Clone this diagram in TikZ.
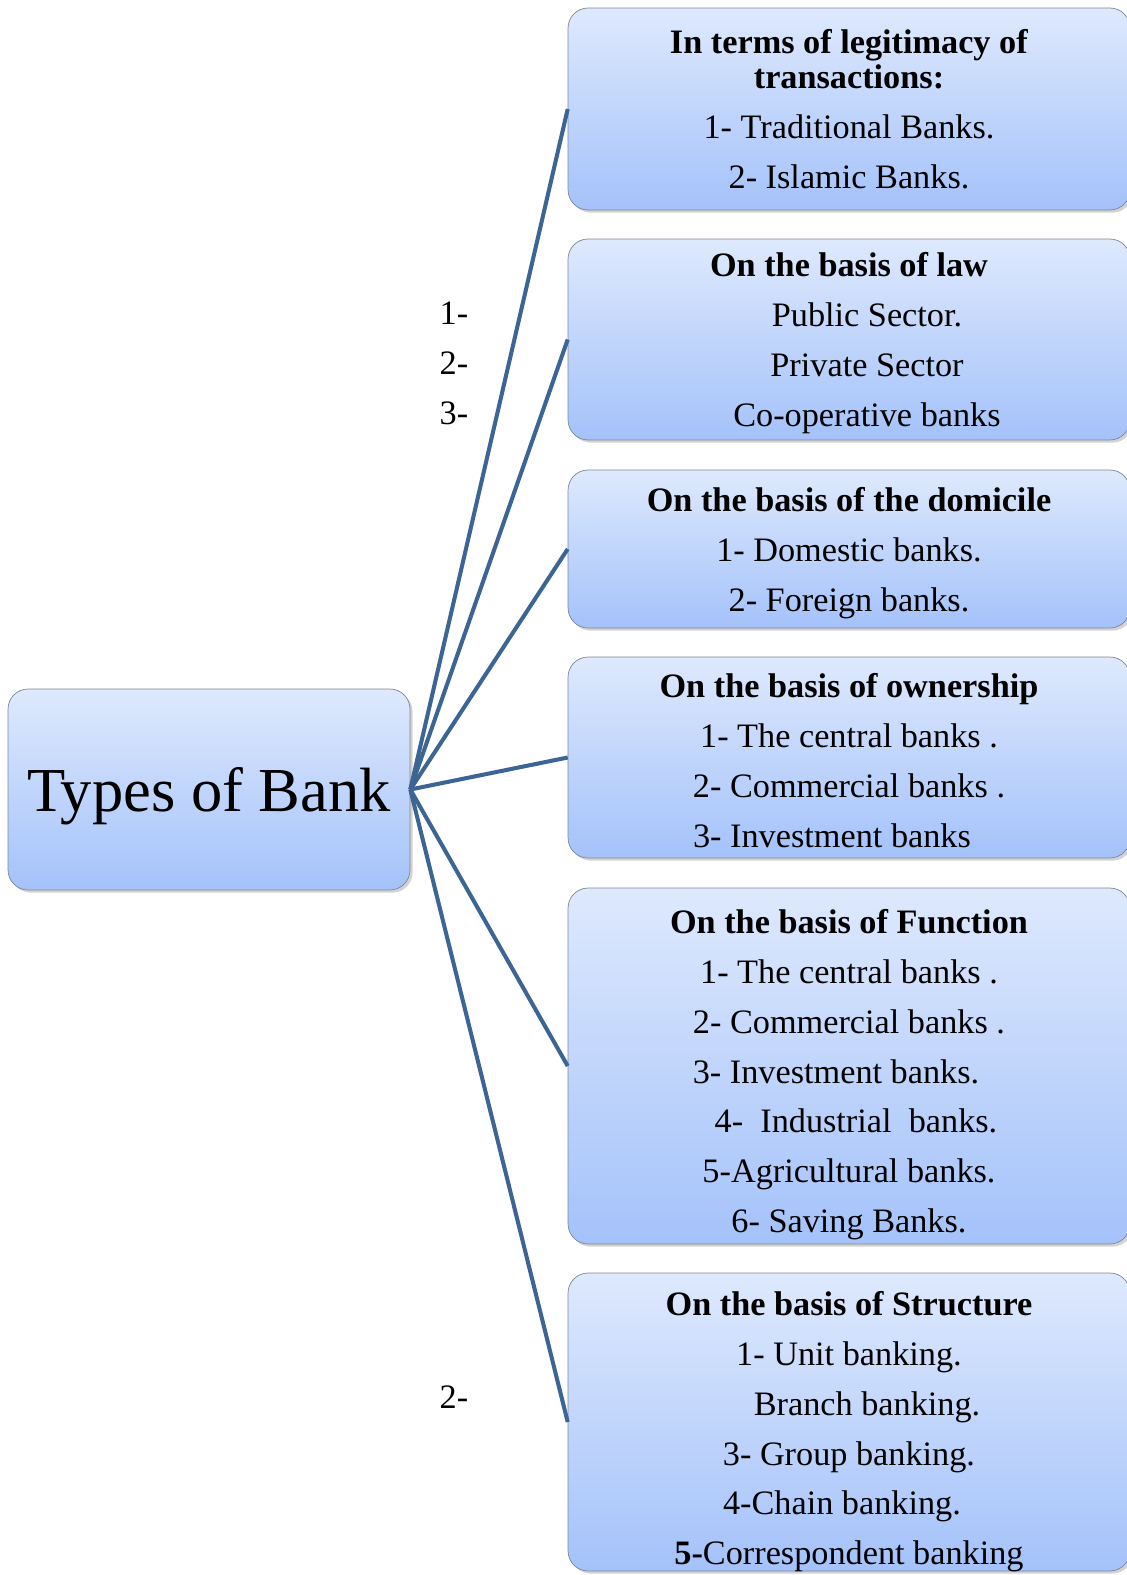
\documentclass[tikz,border=0pt]{standalone}
\usepackage{fontspec}
\setmainfont{Liberation Serif}
\usetikzlibrary{shadows}
\definecolor{boxtop}{RGB}{222,233,253}
\definecolor{boxbottom}{RGB}{164,194,250}
\definecolor{boxline}{RGB}{125,135,150}
\definecolor{linkblue}{RGB}{60,101,150}

\begin{document}
\begin{tikzpicture}[x=0.02cm,y=-0.02cm]
	\tikzset{
		kind/.style={draw=boxline,rounded corners=0.4cm,top color=boxtop,bottom color=boxbottom,
			drop shadow={shadow xshift=1.5pt,shadow yshift=-1.5pt,opacity=0.35},
			align=center,inner sep=0pt,minimum width=11.24cm,text depth=0pt,
			font=\fontsize{19.5}{28.45}\selectfont},
		link/.style={linkblue,line width=2.3pt},
		num/.style={font=\fontsize{19.5}{28.45}\selectfont}
	}
	\useasboundingbox (0,0) rectangle (1126,1575);

	\node[kind,minimum width=8.04cm,minimum height=4.02cm,font=\fontsize{35.6}{40}\selectfont] (b0) at (209,789.5) {Types of Bank};

	\node[kind,minimum height=4.04cm] (b1) at (849,109)
		{\textbf{In terms of legitimacy of}\\[-0.3cm]\textbf{transactions:}\\1- Traditional Banks.\\2- Islamic Banks.};
	\node[kind,minimum height=4.02cm] (b2) at (849,339.5)
		{\textbf{On the basis of law}\\\hspace*{0.72cm}Public Sector.\\\hspace*{0.72cm}Private Sector\\\hspace*{0.72cm}Co-operative banks};
	\node[kind,minimum height=3.16cm] (b3) at (849,549)
		{\textbf{On the basis of the domicile}\\1- Domestic banks.\\2- Foreign banks.};
	\node[kind,minimum height=4.02cm] (b4) at (849,757.5)
		{\rule{0pt}{0.60cm}\textbf{On the basis of ownership}\\1- The central banks .\\2- Commercial banks .\\3- Investment banks\hspace*{0.68cm}\mbox{}};
	\node[kind,minimum height=7.12cm] (b5) at (849,1066)
		{\rule{0pt}{0.68cm}\textbf{On the basis of Function}\\1- The central banks .\\2- Commercial banks .\\3- Investment banks.\hspace*{0.52cm}\mbox{}\\\hspace*{0.28cm}4-~~Industrial~~banks.\\5-Agricultural banks.\\6- Saving Banks.};
	\node[kind,minimum height=5.96cm] (b6) at (849,1422)
		{\rule{0pt}{0.72cm}\textbf{On the basis of Structure}\\1- Unit banking.\\\hspace*{0.72cm}Branch banking.\\3- Group banking.\\4-Chain banking.\hspace*{0.28cm}\mbox{}\\\textbf{5-}Correspondent banking};

	\path[link]
		(b0.east) edge (b1.west)
		(b0.east) edge (b2.west)
		(b0.east) edge (b3.west)
		(b0.east) edge (b4.west)
		(b0.east) edge (b5.west)
		(b0.east) edge (b6.west);

	%% numbers left of the boxes
	\node[num] (n1) at (454,313) {1-};
	\node[num] (n2) at (454,363) {2-};
	\node[num] (n3) at (454,413) {3-};
	\node[num] (n4) at (454,1397) {2-};
\end{tikzpicture}
\end{document}
